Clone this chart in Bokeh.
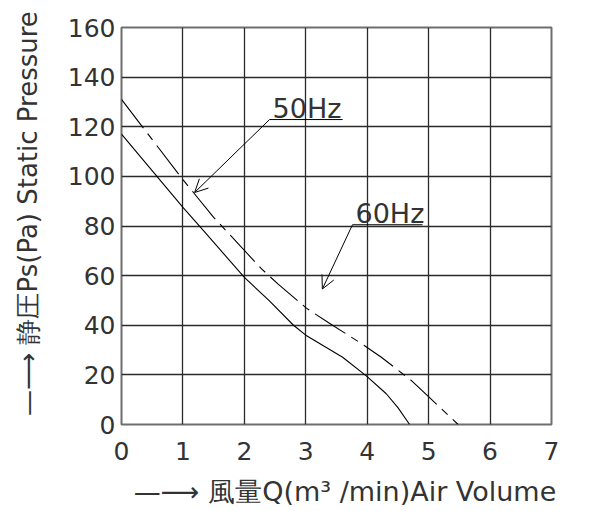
from bokeh.plotting import figure
from bokeh.models import FixedTicker, Range1d, Arrow, OpenHead
from bokeh.core.properties import value
from bokeh.embed import file_html
from bokeh.resources import INLINE

# ---- data ----
x_ticks = [0, 1, 2, 3, 4, 5, 6, 7]
y_ticks = [0, 20, 40, 60, 80, 100, 120, 140, 160]

# dashed curve (upper)
q_dashed = [0.0, 0.98, 1.5, 2.09, 2.28, 2.55, 3.01, 3.36, 3.9, 4.23, 4.72, 4.99, 5.48]
p_dashed = [131, 99.3, 83.5, 67.8, 62.7, 56.6, 46.9, 41.2, 32.7, 27.1, 17.7, 11.4, 0]

# solid curve (lower)
q_solid = [0.0, 1.0, 1.36, 2.0, 2.4, 2.8, 3.0, 3.3, 3.6, 3.99, 4.31, 4.5, 4.69]
p_solid = [117, 87.5, 77.4, 59.3, 50, 40, 36, 31.5, 27.1, 19.5, 12.4, 6.8, 0]

# callouts: text, text anchor, underline end, arrow tip
call_text = ["50Hz", "60Hz"]
call_x = [2.41, 3.76]
call_y = [122.9, 80.5]
call_x_end = [3.6, 4.9]
tip_x = [1.19, 3.27]
tip_y = [93.5, 54.6]

NB = "\u00a0"
x_label = NB * 2 + "\u2014\u27f6 \u98a8\u91cfQ(m\u00b3 /min)Air Volume"
y_label = NB * 3 + "\u2014\u27f6 \u9759\u5727Ps(Pa) Static Pressure"

FONT = "DejaVu Sans"
INK = "#333333"

p = figure(frame_width=430, frame_height=397,
           min_border_left=121, min_border_right=38,
           min_border_top=27, min_border_bottom=70,
           x_range=Range1d(0, 7), y_range=Range1d(0, 160),
           output_backend="svg", toolbar_location=None)

p.outline_line_color = "#6e6e6e"
p.outline_line_width = 2
p.background_fill_color = "white"
p.border_fill_color = "white"

for ax, ticks in ((p.xaxis[0], x_ticks), (p.yaxis[0], y_ticks)):
    ax.ticker = FixedTicker(ticks=ticks)
    ax.axis_line_color = None
    ax.major_tick_line_color = None
    ax.minor_tick_line_color = None
    ax.major_label_text_font = FONT
    ax.major_label_text_font_size = "25px"
    ax.major_label_text_color = INK
    ax.axis_label_text_font = FONT
    ax.axis_label_text_font_style = "normal"
    ax.axis_label_text_color = INK

p.xaxis.axis_label_text_font_size = "27px"
p.yaxis.axis_label_text_font_size = "26px"
p.xaxis.axis_label = x_label
p.yaxis.axis_label = y_label
p.xaxis.major_label_standoff = 11
p.yaxis.major_label_standoff = 0
p.xaxis.axis_label_standoff = 13
p.yaxis.axis_label_standoff = 22

p.xgrid.ticker = FixedTicker(ticks=x_ticks)
p.ygrid.ticker = FixedTicker(ticks=y_ticks)
for g in (p.xgrid[0], p.ygrid[0]):
    g.grid_line_color = "#2a2a2a"
    g.grid_line_width = 1.3

p.line(q_dashed, p_dashed, line_color="black", line_width=1.1, line_dash="36 7 8 7")
p.line(q_solid, p_solid, line_color="black", line_width=1.1)

# callout texts sitting on their underlines
p.text(x=call_x, y=call_y, text=call_text, x_offset=3, y_offset=-11,
       text_font=value(FONT), text_font_size="27px", text_color=INK,
       text_baseline="alphabetic")

# underlines and leader arrows
for x, y, xe, tx, ty in zip(call_x, call_y, call_x_end, tip_x, tip_y):
    p.add_layout(Arrow(end=None, x_start=x, y_start=y, x_end=xe, y_end=y,
                       line_color="black", line_width=1))
    p.add_layout(Arrow(end=OpenHead(size=13, line_width=1, line_color="black"),
                       x_start=x, y_start=y, x_end=tx, y_end=ty,
                       line_color="black", line_width=1))

open("out.html", "w").write(file_html(p, INLINE))
